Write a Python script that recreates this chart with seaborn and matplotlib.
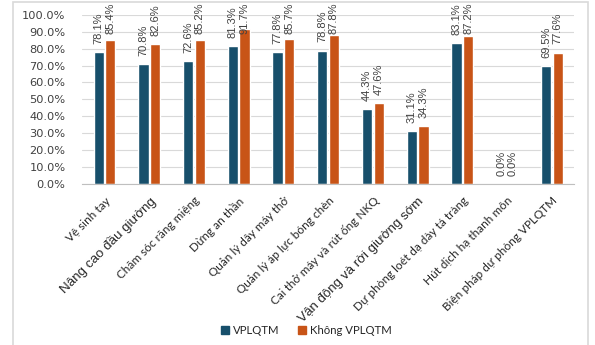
import matplotlib
matplotlib.use("Agg")
import matplotlib.pyplot as plt
import seaborn as sns
import pandas as pd
from matplotlib.patches import Rectangle
from matplotlib.ticker import PercentFormatter, FixedLocator

categorias = ["Vệ sinh tay", "Nâng cao đầu giường", "Chăm sóc răng miệng", "Dừng an thần",
              "Quản lý dây máy thở", "Quản lý áp lực bóng chèn", "Cai thở máy và rút ống NKQ",
              "Vận động và rời giường sớm", "Dự phòng loét dạ dày tá tràng",
              "Hút dịch hạ thanh môn", "Biện pháp dự phòng VPLQTM"]
vplqtm = [78.1, 70.8, 72.6, 81.3, 77.8, 78.8, 44.3, 31.1, 83.1, 0.0, 69.5]
khong_vplqtm = [85.4, 82.6, 85.2, 91.7, 85.7, 87.8, 47.6, 34.3, 87.2, 0.0, 77.6]
series = ["VPLQTM", "Không VPLQTM"]
cores = ["#174F6B", "#C85417"]

df = pd.DataFrame({
    "Categoria": categorias * 2,
    "Valor": vplqtm + khong_vplqtm,
    "Grupo": [series[0]] * len(categorias) + [series[1]] * len(categorias),
})

sns.set_style("white")
plt.rcParams["font.family"] = ["Lato", "DejaVu Sans"]

fig = plt.figure(figsize=(5.95, 3.45), dpi=100)
ax = fig.add_axes([0.138, 0.467, 0.827, 0.49])

sns.barplot(data=df, x="Categoria", y="Valor", hue="Grupo", palette=cores,
            width=0.52, gap=0.12, ax=ax, legend=False, saturation=1)

# rotulos dos valores
textos = []
for cont in ax.containers:
    labels = [f"{v:.1f}%" for v in cont.datavalues]
    textos += ax.bar_label(cont, labels=labels, rotation=90, padding=6, fontsize=8,
                           color="#404040", family=["Liberation Sans Narrow", "Liberation Sans"])

ax.set_ylim(0, 100)
ax.set_xlim(-0.5, len(categorias) - 0.5)
ax.yaxis.set_major_formatter(PercentFormatter(decimals=1))
ax.set_yticks(range(0, 101, 10))
ax.tick_params(axis="y", length=0, labelsize=8.2, colors="#404040", pad=12)
for t in ax.get_yticklabels():
    t.set_family("DejaVu Sans")
ax.grid(axis="y", color="#D9D9D9", linewidth=0.8)
ax.set_axisbelow(True)
for s in ["top", "right", "left"]:
    ax.spines[s].set_visible(False)
ax.spines["bottom"].set_color("#BFBFBF")

ax.set_xlabel("")
ax.set_ylabel("")
ax.set_xticks(range(len(categorias)))
ax.set_xticklabels(categorias, rotation=45, ha="right", rotation_mode="anchor",
                   fontsize=8.5, color="#262626")
ax.tick_params(axis="x", which="major", length=0, pad=8)
ax.xaxis.set_minor_locator(FixedLocator([i - 0.5 for i in range(len(categorias) + 1)]))
ax.tick_params(axis="x", which="minor", length=4, color="#BFBFBF", width=0.8)
for t in ax.get_xticklabels():
    if t.get_text() in ("Nâng cao đầu giường", "Vận động và rời giường sớm"):
        t.set_fontsize(9.6)
        t.set_family("Liberation Sans")

# rotulo que passa do topo desce (como no Excel)
fig.canvas.draw()
r = fig.canvas.get_renderer()
H = fig.bbox.height
for t in textos:
    bb = t.get_window_extent(r)
    if bb.y1 > H - 3:
        dx, dy = t.xyann
        t.xyann = (dx, dy - (bb.y1 - (H - 3)) * 72 / fig.dpi)

# legenda
handles = [Rectangle((0, 0), 1, 1, color=c) for c in cores]
fig.legend(handles, series, loc="center", bbox_to_anchor=(0.515, 0.043), ncol=2,
           frameon=False, fontsize=8.2, handlelength=0.7, handleheight=0.7,
           handletextpad=0.4, columnspacing=1.6)

# moldura
fig.patches.append(Rectangle((0.022, -0.05), 0.966, 1.044, transform=fig.transFigure,
                             fill=False, edgecolor="#D9D9D9", linewidth=1.2))

fig.savefig("out.png", dpi=100)
